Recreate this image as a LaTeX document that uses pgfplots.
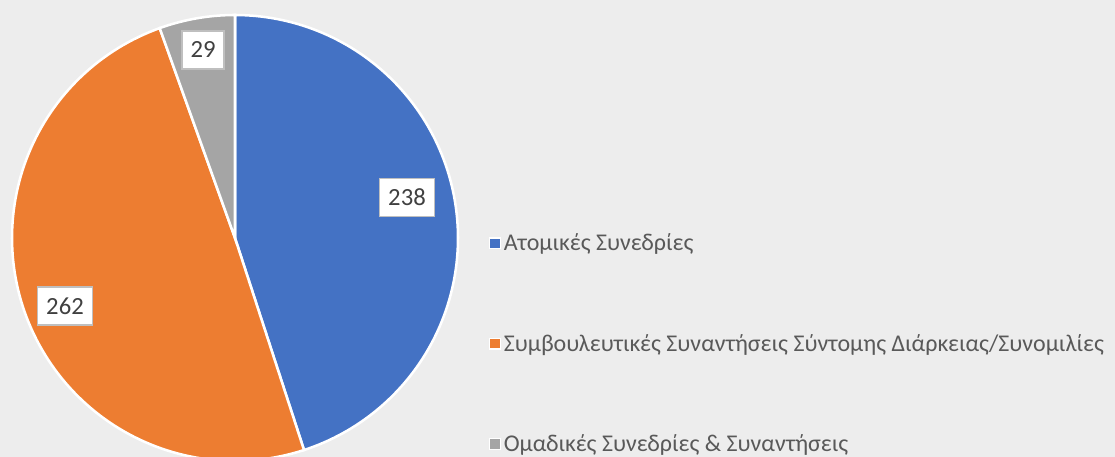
\documentclass[border=0pt]{standalone}
\usepackage{pgfplots}
\usepackage{pgfplotstable}
\pgfplotsset{compat=1.18}
\usepackage{fontspec}
\setmainfont{Carlito}

\definecolor{bg}{HTML}{EDEDED}
\definecolor{cA}{HTML}{4472C4}
\definecolor{cB}{HTML}{ED7D31}
\definecolor{cC}{HTML}{A5A5A5}
\definecolor{txt}{HTML}{595959}
\definecolor{lbl}{HTML}{404040}
\definecolor{lblborder}{HTML}{BFBFBF}

% slice values, clockwise from 12 o'clock
\pgfplotstableread{
value
238
262
29
}\piedata

\pgfplotstablegetelem{0}{value}\of\piedata \let\va\pgfplotsretval
\pgfplotstablegetelem{1}{value}\of\piedata \let\vb\pgfplotsretval
\pgfplotstablegetelem{2}{value}\of\piedata \let\vc\pgfplotsretval
\pgfmathsetmacro{\tot}{\va+\vb+\vc}
\pgfmathsetmacro{\aA}{90}
\pgfmathsetmacro{\aB}{90-360*(\va/\tot)}
\pgfmathsetmacro{\aC}{\aB-360*(\vb/\tot)}
\pgfmathsetmacro{\aD}{-270}
\def\cx{235}\def\cy{219}\def\R{223}

\begin{document}
\begin{tikzpicture}
\fill[bg] (0,0) rectangle (836.25pt,342.75pt);
\begin{axis}[
  at={(0,0)},anchor=south west,
  width=836.25pt,height=342.75pt,scale only axis,
  xmin=0,xmax=1115,ymin=0,ymax=457,
  hide axis,
  legend style={at={(axis cs:489,226)},anchor=north west,draw=none,fill=none,
    inner sep=0pt,font=\fontsize{18}{21}\selectfont,text=txt,
    row sep=57pt,cells={anchor=west}},
  legend image code/.code={\draw[#1,draw=white,line width=0.9pt] (0pt,-4pt) rectangle (8pt,4pt);},
]
\addplot[fill=cA,draw=white,line width=1.9pt,domain=\aB:\aA,samples=120,variable=\t]
  ({\cx+\R*cos(\t)},{\cy+\R*sin(\t)}) -- (axis cs:\cx,\cy) -- cycle;
\addlegendentry{Ατομικές Συνεδρίες}
\addplot[fill=cB,draw=white,line width=1.9pt,domain=\aC:\aB,samples=120,variable=\t]
  ({\cx+\R*cos(\t)},{\cy+\R*sin(\t)}) -- (axis cs:\cx,\cy) -- cycle;
\addlegendentry{Συμβουλευτικές Συναντήσεις Σύντομης Διάρκειας/Συνομιλίες}
\addplot[fill=cC,draw=white,line width=1.9pt,domain=\aD:\aC,samples=30,variable=\t]
  ({\cx+\R*cos(\t)},{\cy+\R*sin(\t)}) -- (axis cs:\cx,\cy) -- cycle;
\addlegendentry{Ομαδικές Συνεδρίες \& Συναντήσεις}
\tikzset{lab/.style={fill=white,draw=lblborder,line width=1.1pt,text=lbl,
  font=\fontsize{18.5}{21}\selectfont,inner xsep=6.5pt,minimum height=28.5pt}}
\node[lab] at (axis cs:407,259.5) {\va};
\node[lab] at (axis cs:65,151) {\vb};
\node[lab] at (axis cs:203,407) {\vc};
\end{axis}
\pgfresetboundingbox
\path (0,0) rectangle (836.25pt,342.75pt);
\end{tikzpicture}
\end{document}
